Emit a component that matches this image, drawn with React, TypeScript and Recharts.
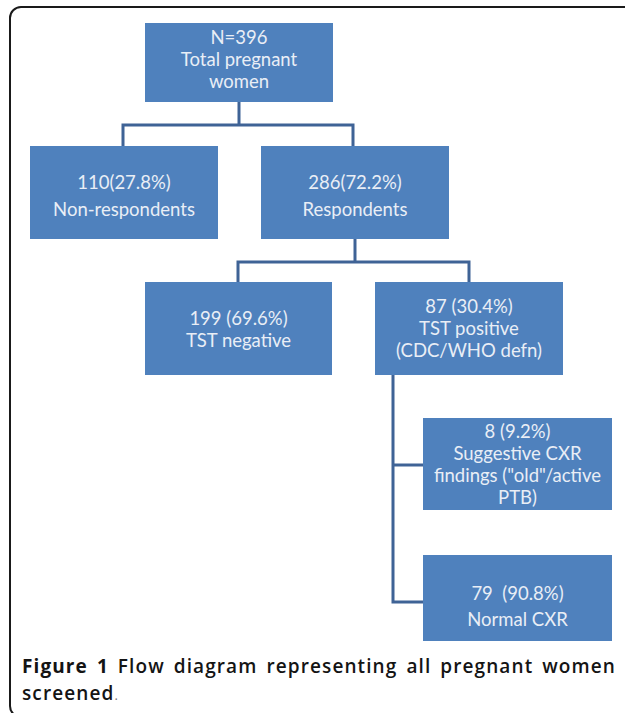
import React from "react";
import { ScatterChart, Scatter, XAxis, YAxis } from "recharts";

// node texts, top to bottom / left to right
const nodeLabels: string[][] = [
  ["N=396", "Total pregnant", "women"],
  ["110(27.8%)", "Non-respondents"],
  ["286(72.2%)", "Respondents"],
  ["199 (69.6%)", "TST negative"],
  ["87 (30.4%)", "TST positive", "(CDC/WHO defn)"],
  ["8 (9.2%)", "Suggestive CXR", 'findings ("old"/active', "PTB)"],
  ["79  (90.8%)", "Normal CXR"],
];

// layout in diagram units (1 unit = 1px): [left, top, right, bottom]
const nodeBoxes: number[][] = [
  [145, 23, 333, 102],
  [30, 146, 218, 239],
  [261, 146, 449, 239],
  [145, 282, 332, 375],
  [375, 282, 563, 375],
  [423, 418, 612, 510],
  [423, 555, 612, 641],
];

const nodeLineY: number[][] = [
  [37, 59, 81],
  [182, 209],
  [182, 209],
  [318, 340],
  [306, 328, 350],
  [431, 453, 475, 497],
  [593, 619],
];

// elbow connectors as polylines
const connectors: number[][][] = [
  [[239, 102], [239, 125]],
  [[123, 146], [123, 125], [353, 125], [353, 146]],
  [[355, 239], [355, 262]],
  [[238, 282], [238, 262], [469, 262], [469, 282]],
  [[393, 375], [393, 602], [423, 602]],
  [[393, 465], [423, 465]],
];

const captionLabel = "Figure 1";
const captionLines = ["Flow diagram representing all pregnant women", "screened"];

const BOX = "#4f81bd";
const LINK = "#3f6396";
const TEXT = "#e9eef6";

const nodes = nodeLabels.map((lines, i) => {
  const [x0, y0, x1, y1] = nodeBoxes[i];
  return { x: (x0 + x1) / 2, y: (y0 + y1) / 2, w: x1 - x0, h: y1 - y0, lines, lineY: nodeLineY[i] };
});

const NodeShape = (props: any) => {
  const { cx, cy, payload } = props;
  return (
    <g>
      <rect x={cx - payload.w / 2} y={cy - payload.h / 2} width={payload.w} height={payload.h} fill={BOX} />
      {payload.lines.map((t: string, k: number) => (
        <text
          key={k}
          x={cx}
          y={cy + (payload.lineY[k] - payload.y)}
          textAnchor="middle"
          dominantBaseline="central"
          fill={TEXT}
          fontFamily="Lato, 'Open Sans', sans-serif"
          fontSize={18.5}
          style={{ whiteSpace: "pre" }}
        >
          {t}
        </text>
      ))}
    </g>
  );
};

export default function App() {
  return (
    <div
      style={{
        position: "absolute",
        left: 0,
        top: 0,
        width: 625,
        height: 713,
        overflow: "hidden",
        background: "#fff",
      }}
    >
      <div
        style={{
          position: "absolute",
          left: 9,
          top: 6,
          width: 660,
          height: 708,
          border: "2px solid #1a1a1a",
          borderRadius: 12,
        }}
      />
      <div style={{ position: "absolute", left: 0, top: 0 }}>
        <ScatterChart width={625} height={713} margin={{ top: 0, right: 0, bottom: 0, left: 0 }}>
          <XAxis type="number" dataKey="x" domain={[0, 625]} hide />
          <YAxis type="number" dataKey="y" domain={[0, 713]} reversed hide />
          {connectors.map((pts, i) => (
            <Scatter
              key={`c${i}`}
              data={pts.map(([x, y]) => ({ x, y }))}
              line={{ stroke: LINK, strokeWidth: 3 }}
              lineType="joint"
              shape={() => <g />}
              isAnimationActive={false}
              legendType="none"
            />
          ))}
          <Scatter data={nodes} shape={NodeShape} isAnimationActive={false} legendType="none" />
        </ScatterChart>
      </div>
      <div
        style={{
          position: "absolute",
          left: 22,
          top: 653,
          width: 594,
          fontFamily: "'Open Sans', sans-serif",
          fontWeight: 600,
          fontSize: 19,
          letterSpacing: 1.1,
          lineHeight: "27px",
          color: "#141414",
        }}
      >
        <div style={{ textAlign: "justify", textAlignLast: "justify" }}>
          <span style={{ fontWeight: 700 }}>{captionLabel}</span> {captionLines[0]}
        </div>
        <div>
          {captionLines[1]}
          <span style={{ color: "#777", fontWeight: 400, fontSize: 13 }}>.</span>
        </div>
      </div>
    </div>
  );
}
